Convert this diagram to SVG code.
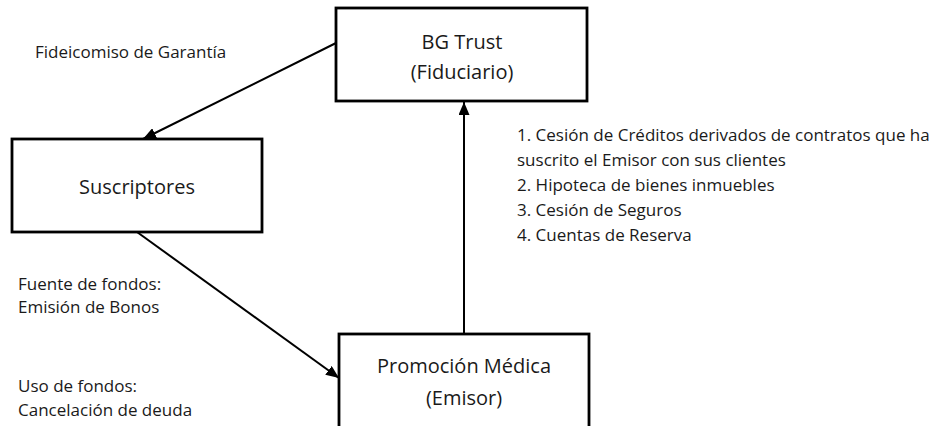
<svg xmlns="http://www.w3.org/2000/svg" width="930" height="426" viewBox="0 0 930 426">
<defs>
<marker id="ah" viewBox="0 0 13 11" refX="13" refY="5.5" markerWidth="13" markerHeight="11" markerUnits="userSpaceOnUse" orient="auto">
<path d="M0,0 L13,5.5 L0,11 Z" fill="#000"/>
</marker>
<style>
.box{fill:#fff;stroke:#000;stroke-width:2.8}
.t{font-family:"Open Sans","Noto Sans","DejaVu Sans",sans-serif;fill:#1a1a1a}
.big{font-size:20px;text-anchor:middle}
.sm{font-size:17px}
.c{stroke:#000;stroke-width:2;fill:none;marker-end:url(#ah)}
</style>
</defs>
<rect width="930" height="426" fill="#fff"/>
<g id="connectors">
<line class="c" x1="336" y1="43" x2="143" y2="139"/>
<line class="c" x1="137" y1="232" x2="339" y2="378"/>
<line class="c" x1="464" y1="334" x2="464" y2="102"/>
</g>
<g id="bgtrust">
<rect class="box" x="336" y="8" width="251" height="93"/>
<text class="t big" x="462" y="49">BG Trust</text>
<text class="t big" x="462" y="79">(Fiduciario)</text>
</g>
<g id="suscriptores">
<rect class="box" x="12" y="139" width="250" height="93"/>
<text class="t big" x="137" y="194">Suscriptores</text>
</g>
<g id="promocion">
<rect class="box" x="339" y="334" width="250" height="100"/>
<text class="t big" x="464" y="373">Promoción Médica</text>
<text class="t big" x="464" y="405">(Emisor)</text>
</g>
<g id="labels">
<text class="t sm" x="35" y="58">Fideicomiso de Garantía</text>
<text class="t sm" x="517" y="141">1. Cesión de Créditos derivados de contratos que ha</text>
<text class="t sm" x="517" y="166">suscrito el Emisor con sus clientes</text>
<text class="t sm" x="517" y="191">2. Hipoteca de bienes inmuebles</text>
<text class="t sm" x="517" y="216">3. Cesión de Seguros</text>
<text class="t sm" x="517" y="241">4. Cuentas de Reserva</text>
<text class="t sm" x="18" y="290">Fuente de fondos:</text>
<text class="t sm" x="18" y="313">Emisión de Bonos</text>
<text class="t sm" x="18" y="392">Uso de fondos:</text>
<text class="t sm" x="18" y="416">Cancelación de deuda</text>
</g>
</svg>
